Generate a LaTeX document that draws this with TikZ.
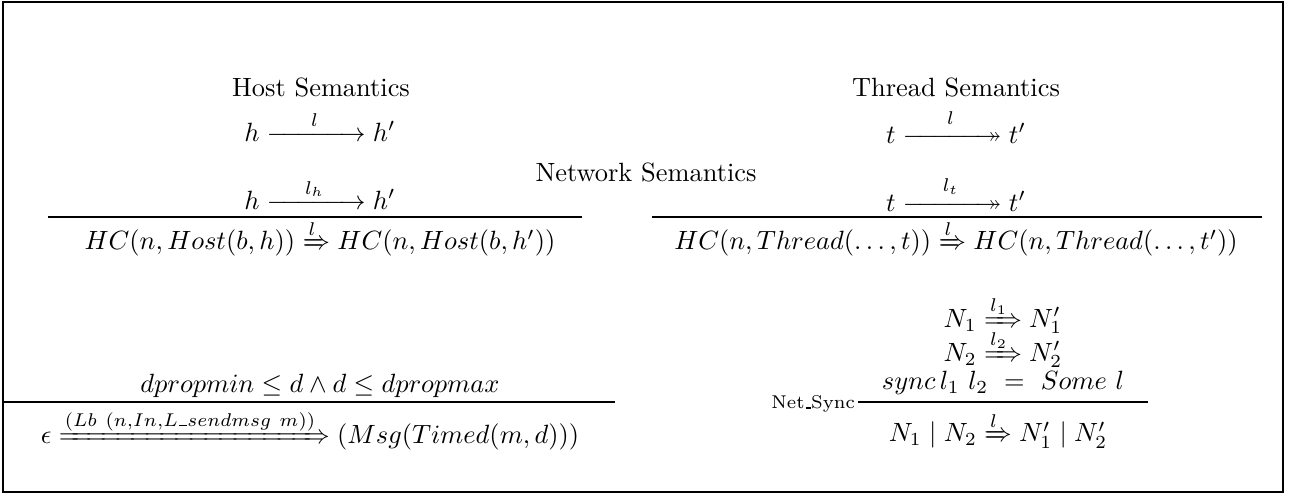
\documentclass[tikz,border=0pt]{standalone}
\usepackage{amsmath,amssymb,mathtools}
\makeatletter
\newcommand{\xthra}[1]{\ext@arrow 0359{\arrowfill@\relbar\relbar\twoheadrightarrow}{}{#1}}
\makeatother
\newcommand{\arrlab}[1]{\hbox to 31pt{\hss$\scriptstyle #1$\hss}}
\newcommand{\usc}{\leavevmode\kern.06em\vbox{\hrule width.3em height 0.5pt}}
\begin{document}
\begin{tikzpicture}[x=0.3788pt,y=-0.3788pt,
  every node/.style={inner sep=0pt,outer sep=0pt},
  frameline/.style={line width=0.9pt},
  ruleline/.style={line width=0.9pt}]
\useasboundingbox (0,0) rectangle (1292,497);
\draw[frameline] (3,2) rectangle (1283,492);
% titles
\node (hs) at (321,87) {Host Semantics};
\node (ts) at (956,87) {Thread Semantics};
\node (hstep) at (320,126) {$h \xrightarrow{\arrlab{l}} h'$};
\node (tstep) at (956,126) {$t \xthra{\arrlab{l}} t'$};
\node (ns) at (646,172) {Network Semantics};
% host rule
\node (hnum) at (320,194) {$h \xrightarrow{\arrlab{l_h}} h'$};
\draw[ruleline] (48,217) -- (582,217);
\node (hcon) at (320,244) {$HC(n, Host(b,h)) \xRightarrow{l} HC(n, Host(b,h'))$};
% thread rule
\node (tnum) at (956,194) {$t \xthra{\arrlab{l_t}} t'$};
\draw[ruleline] (652,217) -- (1262,217);
\node (tcon) at (956,244) {$HC(n, Thread(\ldots,t)) \xRightarrow{l} HC(n, Thread(\ldots,t'))$};
% message rule
\node (mnum) at (320,386) {$dpropmin \leq d \land d \leq dpropmax$};
\draw[ruleline] (4,402) -- (615,402);
\node (mcon) at (310,436) {$\epsilon \xRightarrow{(Lb\ (n,In,L\usc sendmsg\ m))} (Msg(Timed(m,d)))$};
% net sync rule
\node (n1) at (1003,321) {$N_1 \xRightarrow{l_1} N_1'$};
\node (n2) at (1003,355) {$N_2 \xRightarrow{l_2} N_2'$};
\node (sy) at (1003,383) {$sync\, l_1\ l_2\ =\ Some\ l$};
\coordinate (sl) at (858,402);
\coordinate (sr) at (1148,402);
\draw[ruleline] (sl) -- (sr);
\node[anchor=east] (lab) at (855,404) {\scriptsize Net\usc Sync};
\node (scon) at (998,436) {$N_1 \mid N_2 \xRightarrow{l} N_1' \mid N_2'$};
\end{tikzpicture}
\end{document}
